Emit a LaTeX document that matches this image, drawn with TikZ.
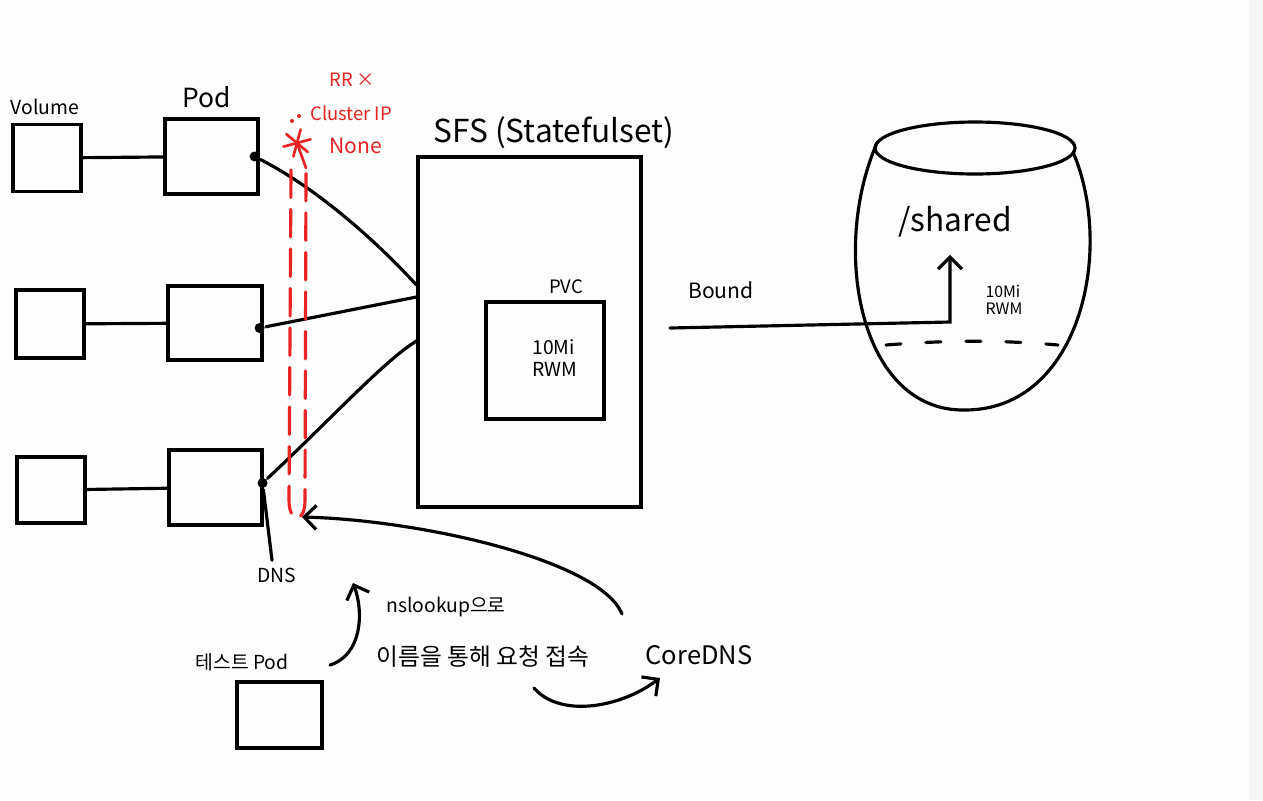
\documentclass[tikz,border=0pt]{standalone}
\usepackage{fontspec}
\setmainfont{Noto Sans CJK KR}
\usetikzlibrary{arrows.meta,calc}
\definecolor{penred}{RGB}{232,36,36}
\definecolor{paper}{RGB}{253,253,253}
\definecolor{edgestrip}{RGB}{246,246,246}
\tikzset{
  box/.style={draw, line width=1.8pt, inner sep=0pt},
  dot/.style={circle, fill, inner sep=0pt, minimum size=2mm},
  redtxt/.style={text=penred, inner sep=1pt, font=\fontsize{10.5}{12}\selectfont},
}
\begin{document}
\begin{tikzpicture}[x=0.2mm, y=-0.2mm, line width=1.8pt, line cap=round,
  >={Straight Barb[length=2.4mm,width=4.8mm]}, font=\fontsize{13}{15}\selectfont]
\fill[paper] (0,0) rectangle (1263,800);
\fill[edgestrip] (1249,0) rectangle (1263,800);
\useasboundingbox (0,0) rectangle (1263,800);

\node[box, minimum width=13.6mm, minimum height=13.4mm] (vol1) at (47,158) {};
\node[box, minimum width=13.6mm, minimum height=13.6mm] (vol2) at (50,324) {};
\node[box, minimum width=13.6mm, minimum height=13.2mm] (vol3) at (51,490) {};
\node[box, minimum width=18.6mm, minimum height=15mm] (pod1) at (211.5,156.5) {};
\node[box, minimum width=18.8mm, minimum height=14.8mm] (pod2) at (215,323) {};
\node[box, minimum width=18.6mm, minimum height=15mm] (pod3) at (215.5,487.5) {};
\node[font=\fontsize{11}{12}\selectfont] (vollbl) at (45,107) {Volume};
\node[font=\fontsize{15}{16}\selectfont] (podlbl) at (207,97) {Pod};
\draw (vol1) -- (pod1);
\draw (vol2) -- (pod2);
\draw (vol3) -- (pod3);

\node[box, minimum width=44.6mm, minimum height=70mm] (sfs) at (529.5,332) {};
\node[font=\fontsize{18}{20}\selectfont] (sfslbl) at (554,133) {SFS (Statefulset)};
\node[box, minimum width=23.6mm, minimum height=23.4mm] (pvc) at (545,360.5) {};
\node[font=\fontsize{10.5}{12}\selectfont] (pvclbl) at (566,287) {PVC};
\node[font=\fontsize{11}{13}\selectfont, align=left] (pvcsize) at (555,358) {10Mi\\RWM};

\node[dot] (d1) at ([xshift=-1mm]pod1.east) {};
\node[dot] (d2) at ([xshift=-0.8mm, yshift=-1mm]pod2.east) {};
\node[dot] (d3) at ([xshift=-0.2mm, yshift=0.9mm]pod3.east) {};
\coordinate (in1) at ([yshift=9.4mm]sfs.west);
\coordinate (in2) at ([yshift=7mm]sfs.west);
\coordinate (in3) at ([yshift=-1.8mm]sfs.west);
\draw (d1) .. controls (320,190) and (380,245) .. (in1);
\draw (d2) -- (in2);
\draw (d3) .. controls (330,420) and (385,360) .. (in3);
\node[font=\fontsize{11}{12}\selectfont] (dns) at (277,575) {DNS};
\draw (d3) -- ([xshift=-1mm]dns.north);

\draw[penred, dash pattern=on 5.5mm off 2.4mm] (291,170) -- (289,500)
  .. controls (289,524) and (305,524) .. (305,500) -- (306,168);
\coordinate (ubot) at (302,517);
\coordinate (star) at (297,143);
\foreach \a in {15,75,140}
  \draw[penred, line width=1.5pt] ([shift={(\a:2.8mm)}]star) -- ([shift={(\a+180:2.8mm)}]star);
\draw[penred, line width=1.5pt] (star) -- (306,168);
\fill[penred] (292,121) circle (0.4mm) (299,116) circle (0.4mm);
\node[redtxt, anchor=west] (rr) at (326,80) {RR ×};
\node[redtxt, anchor=west] (cip) at (307,113) {Cluster IP};
\node[redtxt, anchor=west, font=\fontsize{12}{13}\selectfont] (none) at (326,146) {None};

\draw (975,148) ellipse [x radius=20mm, y radius=5.2mm];
\draw (877,143) .. controls (830,250) and (860,412) .. (965,410)
  .. controls (1080,410) and (1115,250) .. (1073,152);
\draw[dash pattern=on 3mm off 5mm] (886,345) .. controls (950,340) and (1000,340) .. (1058,345);
\node[font=\fontsize{18}{20}\selectfont] (shared) at (955,222) {/shared};
\node[font=\fontsize{9}{10}\selectfont, align=left] (bvol) at (1004,300) {10Mi\\RWM};
\node[font=\fontsize{12}{14}\selectfont] (bound) at (721,290) {Bound};
\coordinate (bstart) at (670,328);
\coordinate (bbend) at (950,322);
\draw[->, shorten >=2mm] (bstart) -- (bbend) -- (bbend |- shared.south);

\node[font=\fontsize{14.5}{16}\selectfont] (core) at (699,655) {CoreDNS};
\node[box, minimum width=17mm, minimum height=13.2mm] (tpod) at (279.5,715) {};
\node[font=\fontsize{11}{12}\selectfont] (tlbl) at (242,662) {테스트 Pod};
\node[font=\fontsize{11}{13}\selectfont] (lookup) at (446,607) {nslookup으로};
\node[font=\fontsize{13.5}{15}\selectfont] (req) at (483,657) {이름을 통해 요청 접속};
\draw[->] ([xshift=-15.4mm, yshift=8.2mm]core.center) .. controls (600,560) and (420,520) .. (ubot);
\draw[->] ([xshift=17.6mm, yshift=-0.6mm]tlbl.center) .. controls (362,655) and (364,612) .. ([xshift=-18.6mm, yshift=4.8mm]lookup.center);
\draw[->] ([xshift=10.2mm, yshift=-6.2mm]req.center) .. controls (560,718) and (620,708) .. ([xshift=-7.8mm, yshift=-4.6mm]core.center);
\end{tikzpicture}
\end{document}
